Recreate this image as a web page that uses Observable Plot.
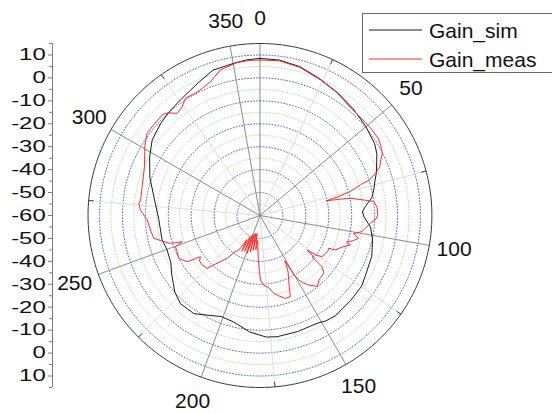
<!DOCTYPE html>
<html>
<head>
<meta charset="utf-8">
<script src="https://cdn.jsdelivr.net/npm/d3@7"></script>
<script src="https://cdn.jsdelivr.net/npm/@observablehq/plot@0.6"></script>
<style>
html, body { margin: 0; padding: 0; background: #fff; overflow: hidden; }
#wrap { position: relative; width: 552px; height: 414px; overflow: hidden; background: #fff; }
#wrap svg.chart { position: absolute; left: 0; top: 0; }
#legend { position: absolute; left: 362px; top: 13px; width: 220px; height: 58px; border: 1px solid #666; background: #fff; }
</style>
</head>
<body>
<div id="wrap"></div>
<script>
// ---- data (angle in degrees, clockwise from top; gain in dB) ----
const simAngle = [0, 7, 15, 23, 32, 41, 50, 58, 62, 65, 70, 73, 77, 81, 85, 88, 91, 96, 102, 110, 120, 125, 133, 143, 148, 152, 162, 172, 177, 185, 194, 201, 208, 214, 222, 228, 232, 237, 242, 250, 256, 268, 280, 289, 298, 305, 313, 320, 327, 335, 342, 350, 355, 360];
const simGain  = [8.5, 8.3, 7.2, 5.2, 3.4, 1.8, 0.3, -1.0, -2.3, -3.8, -6.0, -7.5, -9.0, -10.6, -13.8, -15.3, -14.5, -11.5, -9.8, -8.1, -7.0, -6.0, -5.8, -5.3, -5.8, -6.8, -6.8, -6.6, -6.9, -9.0, -12.2, -12.8, -10.8, -8.4, -8.2, -10.0, -12.0, -14.0, -16.0, -16.8, -16.0, -15.8, -13.0, -9.2, -5.5, -2.6, -0.9, 0.3, 1.5, 3.8, 6.6, 7.3, 8.1, 8.5];

const measAngle = [0, 7, 15, 24, 32, 41, 45, 52, 57, 60, 63, 66, 68, 70, 72, 73, 75.2, 76.5, 77.5, 78.3, 79.2, 81.5, 83, 86, 90, 92, 94, 97, 99, 101, 103, 105, 107, 108, 111, 114.5, 115.5, 118, 120, 123.5, 125, 126.2, 127.5, 128.5, 129, 129.5, 132, 137.5, 141, 145, 147, 149, 150.2, 151, 153.5, 156.5, 159.5, 163, 167, 170, 173, 177, 179.6, 180.5, 182.4, 185, 187, 189, 191, 193, 195, 197, 199, 201, 203, 205, 207, 209, 211, 213, 214.5, 217.5, 222, 225, 229.5, 233, 235.3, 237.6, 242, 246, 249.7, 251.4, 252.7, 255.8, 258, 262.5, 267.7, 272.6, 275.7, 277.4, 283.7, 293, 301, 306, 311, 316, 318, 321, 324.4, 327.6, 332.2, 336, 339.7, 344.8, 351.5, 356, 360];
const measGain  = [7.8, 8.0, 6.9, 4.8, 3.2, 1.3, 1.3, 1.5, 1.6, 0.8, -0.1, -2.5, -3.6, -6.5, -9.7, -14.2, -19.5, -25.0, -30.5, -25.6, -19.8, -14.2, -10.0, -8.8, -8.6, -9.6, -11.7, -13.8, -15.0, -18.5, -15.8, -17.8, -20.5, -18.5, -21.6, -23.8, -26.8, -26.5, -27.0, -27.5, -29.8, -34.5, -30.5, -31.0, -28.0, -24.9, -22.5, -21.9, -20.2, -23.0, -24.8, -27.2, -30.5, -37.5, -32.5, -28.5, -22.2, -22.2, -24.1, -25.6, -28.3, -29.6, -31.9, -35.5, -41.3, -49.0, -45.0, -52.0, -44.5, -52.0, -43.5, -51.5, -42.5, -51.0, -43.0, -50.0, -42.5, -48.0, -43.0, -41.5, -40.9, -36.5, -32.0, -27.4, -26.8, -27.0, -28.4, -22.4, -20.0, -20.5, -20.7, -24.2, -19.1, -15.3, -12.6, -11.8, -10.8, -7.8, -6.9, -7.5, -7.1, -5.3, -1.4, 0.9, 1.0, 1.2, 0.2, -2.7, -1.7, 0.6, 0.3, 1.0, 2.2, 5.8, 7.4, 7.8, 7.8];

const seriesNames = ["Gain_sim", "Gain_meas"];
const seriesColors = ["#1a1a1a", "#ff2a2a"];

const angleTicks = [0, 50, 100, 150, 200, 250, 300, 350];
const minorAngles = [25, 75, 125, 175, 225, 275, 325];
const gainTickLabels = [10, 0, -10, -20, -30, -40, -50, -60];
const majorRings = [10, 0, -10, -20, -30, -40, -50];
const minorRings = [5, -5, -15, -25, -35, -45, -55];
const gainMin = -60, gainMax = 15;

// ---- helpers: polar -> cartesian data coordinates (rho = gain - gainMin) ----
const rad = a => a * Math.PI / 180;
const px = (g, a) => (g - gainMin) * Math.sin(rad(a));
const py = (g, a) => (g - gainMin) * Math.cos(rad(a));

const sim = simAngle.map((a, i) => ({a, g: simGain[i]}));
const meas = measAngle.map((a, i) => ({a, g: measGain[i]}));
const ring = gs => gs.flatMap(g => d3.range(0, 361, 1.5).map(a => ({g, a})));

const span = gainMax - gainMin;           // 75
// axis positions above/below centre: label = |pos| + gainMin
const tickPos = gainTickLabels.flatMap(g => g - gainMin === 0 ? [0] : [g - gainMin, -(g - gainMin)]);
const minorPos = [];
for (let p = 5; p <= span; p += 10) { minorPos.push(p, -p); }

const chart = Plot.plot({
  width: 552,
  height: 414,
  marginLeft: 52,
  marginRight: 0,
  marginTop: 43,
  marginBottom: 27,
  x: {domain: [-90.5, 127.6], axis: null},
  y: {domain: [-span, span]},
  style: {fontFamily: "'Liberation Sans', Arial, sans-serif", background: "transparent", overflow: "visible"},
  marks: [
    // grid rings
    Plot.line(ring(minorRings), {x: d => px(d.g, d.a), y: d => py(d.g, d.a), z: "g", stroke: "#b9dfb0", strokeWidth: 1, strokeDasharray: "1,2"}),
    Plot.line(ring(majorRings), {x: d => px(d.g, d.a), y: d => py(d.g, d.a), z: "g", stroke: "#4d70cc", strokeWidth: 1, strokeDasharray: "1,2"}),
    // spokes
    Plot.link(minorAngles, {x1: 0, y1: 0, x2: a => px(gainMax, a), y2: a => py(gainMax, a), stroke: "#dddddd", strokeWidth: 1}),
    Plot.link(angleTicks, {x1: 0, y1: 0, x2: a => px(gainMax, a), y2: a => py(gainMax, a), stroke: "#8c8c8c", strokeWidth: 1}),
    // outer circle and minor angle ticks
    Plot.line(ring([gainMax]), {x: d => px(d.g, d.a), y: d => py(d.g, d.a), stroke: "#3a3a3a", strokeWidth: 1}),
    Plot.link(minorAngles, {x1: a => px(gainMax, a), y1: a => py(gainMax, a), x2: a => px(gainMax - 2.2, a), y2: a => py(gainMax - 2.2, a), stroke: "#3a3a3a", strokeWidth: 1}),
    // series
    Plot.line(sim, {x: d => px(d.g, d.a), y: d => py(d.g, d.a), stroke: seriesColors[0], strokeWidth: 1}),
    Plot.line(meas, {x: d => px(d.g, d.a), y: d => py(d.g, d.a), stroke: seriesColors[1], strokeWidth: 1}),
    // angle labels
    Plot.text(angleTicks, {x: a => px(gainMax + 11, a), y: a => py(gainMax + 11, a), text: a => String(a), fontSize: 21, fill: "#111", textAnchor: "middle", lineAnchor: "middle"}),
    // radial axis on the left
    Plot.ruleX([-90.5], {y1: -span, y2: span, stroke: "#7a7a7a", strokeWidth: 1}),
    Plot.axisY(minorPos, {anchor: "left", tickSize: 3, stroke: "#7a7a7a", fill: "none"}),
    Plot.axisY(tickPos, {anchor: "left", tickSize: 4, tickPadding: 3, stroke: "#7a7a7a", fill: "#111", fontSize: 16.5, fontFamily: "'Liberation Sans', Arial, sans-serif", tickFormat: p => String(Math.abs(p) + gainMin)})
  ]
});
chart.classList.add("chart");
// widen the radial tick labels horizontally like the reference (scale about their right edge)
d3.select(chart).selectAll('g[aria-label="y-axis tick label"]').each(function () {
  const g = d3.select(this);
  const t = g.attr("transform") || "";
  const ax = 52 - 4 - 3;
  g.attr("transform", `translate(${ax},0) scale(1.45,1) translate(${-ax},0) ${t}`);
});
const wrap = document.getElementById("wrap");
wrap.appendChild(chart);

// legend
const leg = document.createElement("div");
leg.id = "legend";
const lsvg = d3.create("svg").attr("width", 220).attr("height", 58);
seriesNames.forEach((name, i) => {
  const yLine = 16 + i * 29;
  lsvg.append("line").attr("x1", 6).attr("x2", 59).attr("y1", yLine).attr("y2", yLine)
    .attr("stroke", seriesColors[i]).attr("stroke-width", 1);
  lsvg.append("text").attr("x", 66).attr("y", yLine + 7.5)
    .attr("font-family", "'Liberation Sans', Arial, sans-serif").attr("font-size", 21).attr("fill", "#111")
    .text(name);
});
leg.appendChild(lsvg.node());
wrap.appendChild(leg);
</script>
</body>
</html>
